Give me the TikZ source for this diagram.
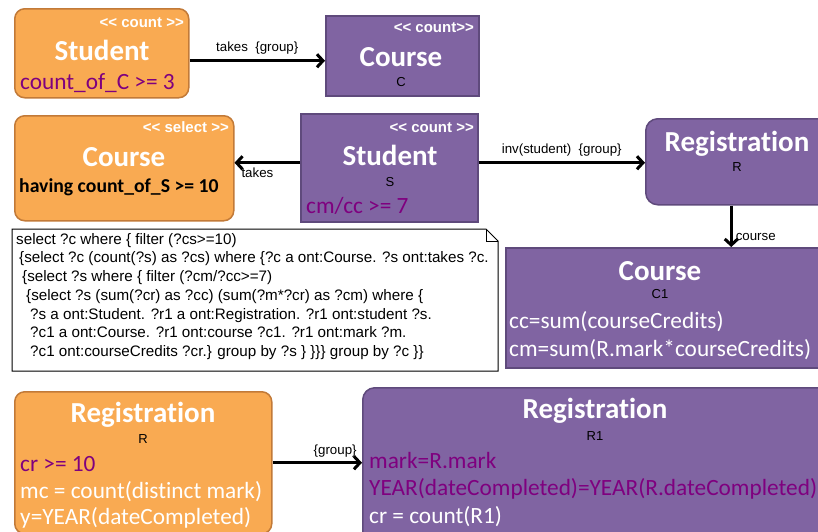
\documentclass[tikz,border=0pt]{standalone}
\usepackage{fontspec}
\setmainfont{Carlito}[Ligatures=NoCommon]
\newfontfamily\arialfont{Liberation Sans}
\usetikzlibrary{arrows.meta}
\definecolor{orangefill}{HTML}{F9AA52}
\definecolor{orangeline}{HTML}{C27A38}
\definecolor{purplefill}{HTML}{8064A2}
\definecolor{purpleline}{HTML}{5F4A7C}
\definecolor{condpurple}{HTML}{7F007F}
\newcommand{\stereo}[1]{<\kern0pt< #1 >\kern0pt>}
\tikzset{
  orangebox/.style = {draw=orangeline, fill=orangefill, line width=1.5pt,
                      rounded corners=10pt, anchor=north west, inner sep=0pt},
  purplebox/.style = {draw=purpleline, fill=purplefill, line width=1.5pt,
                      anchor=north west, inner sep=0pt},
  stereotype/.style = {font=\arialfont\bfseries\fontsize{15}{15}\selectfont,
                       text=white, anchor=base east, inner sep=0pt},
  title/.style = {font=\bfseries\fontsize{29}{29}\selectfont, text=white,
                  anchor=base, inner sep=0pt},
  alias/.style = {font=\arialfont\fontsize{13}{13}\selectfont, anchor=base,
                  inner sep=0pt},
  attr/.style = {font=\fontsize{23.3}{23.3}\selectfont, text=white,
                 anchor=base west, inner sep=0pt},
  cond/.style = {attr, text=condpurple},
  conn/.style = {-{Straight Barb[length=6pt,width=13pt,line width=3pt]},
                 line width=3pt},
  lbl/.style = {font=\arialfont\fontsize{13.3}{13.3}\selectfont, inner sep=0pt}
}
\begin{document}
\begin{tikzpicture}[x=1pt, y=-1pt]
  \useasboundingbox (0,0) rectangle (818,531);
  \clip (0,0) rectangle (818,531);
  % top row
  \node[orangebox, minimum width=174pt, minimum height=89pt] (stuCount) at (14,8) {};
  \node[stereotype] (stuCountSt) at (184,27) {\stereo{count}};
  \node[title] (stuCountTi) at (102,60) {Student};
  \node[cond] (stuCountCo) at (20,89) {count\_of\_C >= 3};
  \node[purplebox, minimum width=153pt, minimum height=80pt] (crsC) at (325,15) {};
  \node[stereotype] (crsCSt) at (474,32) {<\kern0pt< count>\kern0pt>};
  \node[title] (crsCTi) at (401,66) {Course};
  \node[alias] (crsCAl) at (401,86) {C};
  % second row
  \node[orangebox, minimum width=219pt, minimum height=105pt] (crsSel) at (14,115) {};
  \node[stereotype] (crsSelSt) at (229,132) {\stereo{select}};
  \node[title] (crsSelTi) at (124,166) {Course};
  \node[attr, text=black, font=\bfseries\fontsize{19.7}{19.7}\selectfont] (crsSelCo) at (19,192) {having count\_of\_S >= 10};
  \node[purplebox, minimum width=177pt, minimum height=108pt] (stuS) at (300,113) {};
  \node[stereotype] (stuSSt) at (474,132) {\stereo{count}};
  \node[title] (stuSTi) at (390,165) {Student};
  \node[alias] (stuSAl) at (390,186) {S};
  \node[cond] (stuSCo) at (306,213) {cm/cc >= 7};
  \node[purplebox, rounded corners=12pt, minimum width=200pt, minimum height=86pt] (regR) at (645,118) {};
  \node[title] (regRTi) at (737,151) {Registration};
  \node[alias] (regRAl) at (737,171) {R};
  % query note
  \draw[line width=1pt, fill=white] (12,229) -- (486,229) -- (498,241) -- (498,371)
    -- (12,371) -- cycle;
  \draw[line width=1pt] (486,229) -- (486,241) -- (498,241);
  \node[anchor=north west, inner sep=0pt, align=left,
        font=\arialfont\fontsize{15.2}{18.7}\selectfont] (sparql) at (16,233) {%
    select ?c where \{ filter (?cs>=10)\\
    \hspace*{3pt}\{select ?c (count(?s) as ?cs) where \{?c a ont:Course. ?s ont:takes ?c.\\
    \hspace*{6pt}\{select ?s where \{ filter (?cm/?cc>=7)\\
    \hspace*{10pt}\{select ?s (sum(?cr) as ?cc) (sum(?m*?cr) as ?cm) where \{\\
    \hspace*{14pt}?s a ont:Student. ?r1 a ont:Registration. ?r1 ont:student ?s.\\
    \hspace*{14pt}?c1 a ont:Course. ?r1 ont:course ?c1. ?r1 ont:mark ?m.\\
    \hspace*{14pt}?c1 ont:courseCredits ?cr.\} group by ?s \} \}\}\} group by ?c \}\}};
  \node[purplebox, minimum width=330pt, minimum height=120pt] (crsC1) at (505,247) {};
  \node[title] (crsC1Ti) at (660,280) {Course};
  \node[alias] (crsC1Al) at (660,298) {C1};
  \node[attr] (crsC1A1) at (509,328) {cc=sum(courseCredits)};
  \node[attr] (crsC1A2) at (509,356) {cm=sum(R.mark*courseCredits)};
  % bottom row
  \node[orangebox, minimum width=257pt, minimum height=142pt] (regO) at (14,391) {};
  \node[title] (regOTi) at (143,422) {Registration};
  \node[alias] (regOAl) at (143,443) {R};
  \node[cond] (regOCo) at (20,471) {cr >= 10};
  \node[attr] (regOA1) at (20,498) {mc = count(distinct mark)};
  \node[attr] (regOA2) at (20,524) {y=YEAR(dateCompleted)};
  \node[purplebox, rounded corners=12pt, minimum width=480pt, minimum height=160pt] (regP) at (362,387) {};
  \node[title] (regPTi) at (595,418) {Registration};
  \node[alias] (regPAl) at (595,440) {R1};
  \node[cond] (regPC1) at (369,468) {mark=R.mark};
  \node[cond] (regPC2) at (369,495) {YEAR(dateCompleted)=YEAR(R.dateCompleted)};
  \node[attr] (regPA1) at (369,523) {cr = count(R1)};
  % connectors
  \draw[conn] ([yshift=-7.5pt]stuCount.east) -- ([yshift=-7.5pt]stuCount.east -| crsC.west)
    node[lbl, midway, above=5pt] (e1) {takes\ \ \{group\}};
  \draw[conn] ([yshift=5pt]stuS.west) -- ([yshift=5pt]stuS.west -| crsSel.east)
    node[lbl, pos=0.65, below=4pt] (e2) {takes};
  \draw[conn] ([yshift=5pt]stuS.east) -- ([yshift=5pt]stuS.east -| regR.west)
    node[lbl, midway, above=5pt] (e3) {inv(student)\ \ \{group\}};
  \draw[conn] ([xshift=-14.5pt]regR.south) -- ([xshift=-14.5pt]regR.south |- crsC1.north)
    node[lbl, pos=0.75, right=3pt] (e4) {course};
  \draw[conn] (regO.east) -- (regO.east -| regP.west)
    node[lbl, pos=0.7, above=4pt] (e5) {\{group\}};
\end{tikzpicture}
\end{document}
